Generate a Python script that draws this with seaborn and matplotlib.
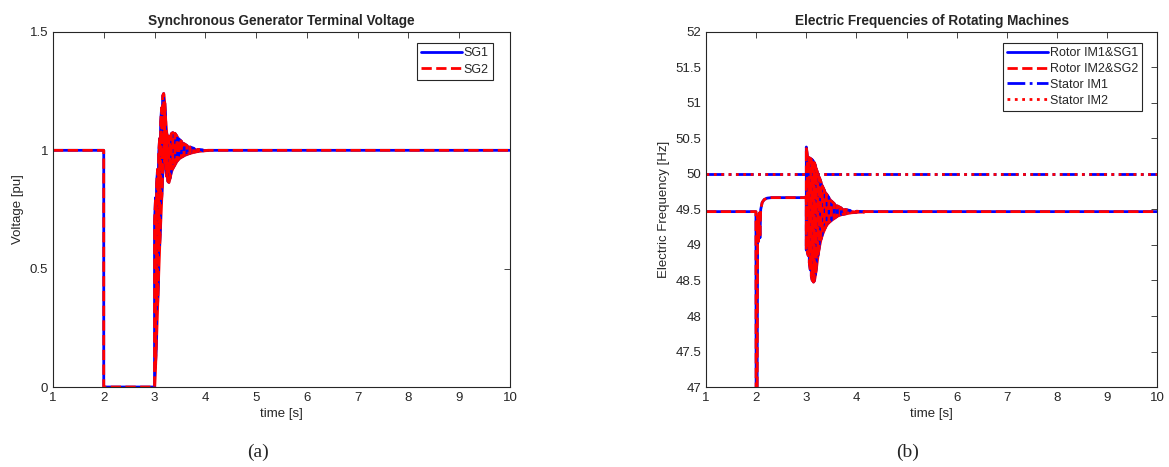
import numpy as np
import pandas as pd
import matplotlib
matplotlib.use("Agg")
import matplotlib.pyplot as plt
import seaborn as sns

# ---------------- data ----------------
# (a) terminal voltage [pu]
volt_pre_t = [1.0, 2.0, 2.0, 3.0]
volt_pre_v = [1.0, 1.0, 0.0, 0.0]
volt_osc_t = [3.00, 3.02, 3.04, 3.06, 3.08, 3.10, 3.12, 3.14, 3.16, 3.18,
              3.20, 3.22, 3.24, 3.26, 3.28, 3.30, 3.33, 3.36, 3.40, 3.44,
              3.48, 3.53, 3.58, 3.64, 3.70, 3.78, 3.86, 3.95, 4.05]
volt_osc_hi = [0.70, 0.80, 0.86, 0.92, 0.98, 1.05, 1.12, 1.18, 1.23, 1.24,
               1.20, 1.12, 1.07, 1.05, 1.05, 1.06, 1.07, 1.075, 1.072, 1.06,
               1.048, 1.038, 1.028, 1.020, 1.014, 1.008, 1.004, 1.002, 1.0]
volt_osc_lo = [0.00, 0.10, 0.22, 0.35, 0.48, 0.60, 0.70, 0.80, 0.90, 0.96,
               0.95, 0.92, 0.89, 0.87, 0.865, 0.88, 0.91, 0.925, 0.94, 0.955,
               0.965, 0.972, 0.978, 0.984, 0.988, 0.993, 0.996, 0.998, 1.0]
volt_post_t = [4.05, 10.0]
volt_post_v = [1.0, 1.0]

# (b) electric frequencies [Hz]
rotor_pre_t = [1.0, 1.995, 2.0, 2.015, 2.03, 2.045, 2.06, 2.075, 2.09,
               2.12, 2.16, 2.22, 2.30, 3.0]
rotor_pre_f = [49.47, 49.47, 46.0, 46.0, 49.40, 49.05, 49.45, 49.10, 49.50,
               49.60, 49.64, 49.66, 49.667, 49.667]
rotor_osc_t = [3.00, 3.02, 3.04, 3.06, 3.08, 3.10, 3.12, 3.14, 3.16, 3.18,
               3.20, 3.23, 3.26, 3.29, 3.32, 3.36, 3.40, 3.45, 3.50, 3.56,
               3.62, 3.70, 3.78, 3.88, 4.00, 4.15]
rotor_osc_hi = [50.38, 50.24, 50.23, 50.23, 50.22, 50.21, 50.20, 50.18, 50.16,
                50.12, 50.07, 50.00, 49.95, 49.89, 49.83, 49.77, 49.72, 49.67,
                49.62, 49.58, 49.55, 49.52, 49.50, 49.485, 49.475, 49.47]
rotor_osc_lo = [48.93, 48.90, 48.85, 48.75, 48.65, 48.56, 48.50, 48.48, 48.50,
                48.58, 48.68, 48.85, 48.98, 49.08, 49.15, 49.22, 49.28, 49.32,
                49.35, 49.38, 49.41, 49.43, 49.44, 49.455, 49.462, 49.467]
rotor_post_t = [4.15, 10.0]
rotor_post_f = [49.47, 49.47]
stator_t = [1.0, 10.0]
stator_f = [50.0, 50.0]

x_ticks = [1, 2, 3, 4, 5, 6, 7, 8, 9, 10]
volt_ticks = [0, 0.5, 1, 1.5]
volt_tick_labels = ["0", "0.5", "1", "1.5"]
freq_ticks = [47, 47.5, 48, 48.5, 49, 49.5, 50, 50.5, 51, 51.5, 52]
freq_tick_labels = ["47", "47.5", "48", "48.5", "49", "49.5", "50", "50.5",
                    "51", "51.5", "52"]


def build_trace(pre_t, pre_v, osc_t, hi, lo, post_t, post_v):
    """Concatenate the recorded segments; the oscillation band is traced
    by visiting the lower and upper envelope value at every recorded time."""
    t, v = list(pre_t), list(pre_v)
    for i, ti in enumerate(osc_t):
        t += [ti, ti]
        v += [lo[i], hi[i]] if i % 2 == 0 else [hi[i], lo[i]]
    t += list(post_t)
    v += list(post_v)
    return pd.DataFrame({"t": t, "v": v})


volt_df = build_trace(volt_pre_t, volt_pre_v, volt_osc_t, volt_osc_hi,
                      volt_osc_lo, volt_post_t, volt_post_v)
rotor_df = build_trace(rotor_pre_t, rotor_pre_f, rotor_osc_t, rotor_osc_hi,
                       rotor_osc_lo, rotor_post_t, rotor_post_f)
stator_df = pd.DataFrame({"t": stator_t, "v": stator_f})

# ---------------- style ----------------
sns.set_theme(style="white")
plt.rcParams["font.family"] = ["Liberation Sans", "DejaVu Sans"]
plt.rcParams.update({
    "axes.edgecolor": "#262626",
    "axes.linewidth": 0.8,
    "xtick.direction": "in",
    "ytick.direction": "in",
    "xtick.top": True,
    "ytick.right": True,
    "xtick.major.size": 4,
    "ytick.major.size": 4,
    "xtick.major.width": 0.6,
    "ytick.major.width": 0.6,
    "xtick.color": "#262626",
    "ytick.color": "#262626",
    "xtick.labelsize": 9.5,
    "ytick.labelsize": 9.5,
})

fig = plt.figure(figsize=(11.69, 4.67), dpi=100)
ax1 = fig.add_axes([0.0453, 0.1713, 0.3910, 0.7602])
ax2 = fig.add_axes([0.6040, 0.1713, 0.3858, 0.7602])

LW = 2.0
RED = "#ff0000"
BLUE = "#0000ff"
common = dict(x="t", y="v", sort=False, estimator=None, linewidth=LW)

# (a)
ax1.fill_between(volt_osc_t, volt_osc_lo, volt_osc_hi, color=RED,
                 linewidth=1.5, edgecolor=RED, zorder=1)
sns.lineplot(data=volt_df, ax=ax1, color=BLUE, linestyle="-",
             label="SG1", zorder=2, **common)
sns.lineplot(data=volt_df, ax=ax1, color=RED, linestyle="--",
             label="SG2", zorder=3, **common)
ax1.set_xlim(1, 10)
ax1.set_ylim(0, 1.5)
ax1.set_xticks(x_ticks)
ax1.set_xticklabels([str(v) for v in x_ticks])
ax1.set_yticks(volt_ticks)
ax1.set_yticklabels(volt_tick_labels)
ax1.set_title("Synchronous Generator Terminal Voltage", fontsize=9.8,
              fontweight="bold", pad=5)
ax1.set_xlabel("time [s]", fontsize=9.5, labelpad=3)
ax1.set_ylabel("Voltage [pu]", fontsize=9.5, labelpad=4)
leg1 = ax1.legend(loc="upper right", bbox_to_anchor=(0.963, 0.969),
                  borderaxespad=0, fontsize=9, handlelength=3.3,
                  handletextpad=0.1, labelspacing=0.35, fancybox=False,
                  framealpha=1, edgecolor="#262626", borderpad=0.35)
leg1.get_frame().set_linewidth(0.8)

# (b)
ax2.fill_between(rotor_osc_t, rotor_osc_lo, rotor_osc_hi, color=RED,
                 linewidth=1.5, edgecolor=RED, zorder=1)
sns.lineplot(data=rotor_df, ax=ax2, color=BLUE, linestyle="-",
             label="Rotor IM1&SG1", zorder=2, **common)
sns.lineplot(data=rotor_df, ax=ax2, color=RED, linestyle="--",
             label="Rotor IM2&SG2", zorder=3, **common)
sns.lineplot(data=stator_df, ax=ax2, color=BLUE, linestyle="-.",
             label="Stator IM1", zorder=4, **common)
sns.lineplot(data=stator_df, ax=ax2, color=RED, linestyle=":",
             label="Stator IM2", zorder=5, **common)
ax2.set_xlim(1, 10)
ax2.set_ylim(47, 52)
ax2.set_xticks(x_ticks)
ax2.set_xticklabels([str(v) for v in x_ticks])
ax2.set_yticks(freq_ticks)
ax2.set_yticklabels(freq_tick_labels)
ax2.set_title("Electric Frequencies of Rotating Machines", fontsize=9.8,
              fontweight="bold", pad=5)
ax2.set_xlabel("time [s]", fontsize=9.5, labelpad=3)
ax2.set_ylabel("Electric Frequency [Hz]", fontsize=9.5, labelpad=4)
leg2 = ax2.legend(loc="upper right", bbox_to_anchor=(0.967, 0.969),
                  borderaxespad=0, fontsize=9, handlelength=3.3,
                  handletextpad=0.1, labelspacing=0.3, fancybox=False,
                  framealpha=1, edgecolor="#262626", borderpad=0.35)
leg2.get_frame().set_linewidth(0.8)

for ax in (ax1, ax2):
    for s in ax.spines.values():
        s.set_visible(True)
        s.set_color("#262626")
        s.set_zorder(6)
    ax.tick_params(which="both", top=True, right=True, direction="in")

fig.text(258 / 1169, 1 - 452 / 467, "(a)", ha="center", va="center",
         fontsize=14, family=["Liberation Serif", "DejaVu Serif"])
fig.text(908 / 1169, 1 - 452 / 467, "(b)", ha="center", va="center",
         fontsize=14, family=["Liberation Serif", "DejaVu Serif"])

fig.savefig("out.png", dpi=100, facecolor="white")
